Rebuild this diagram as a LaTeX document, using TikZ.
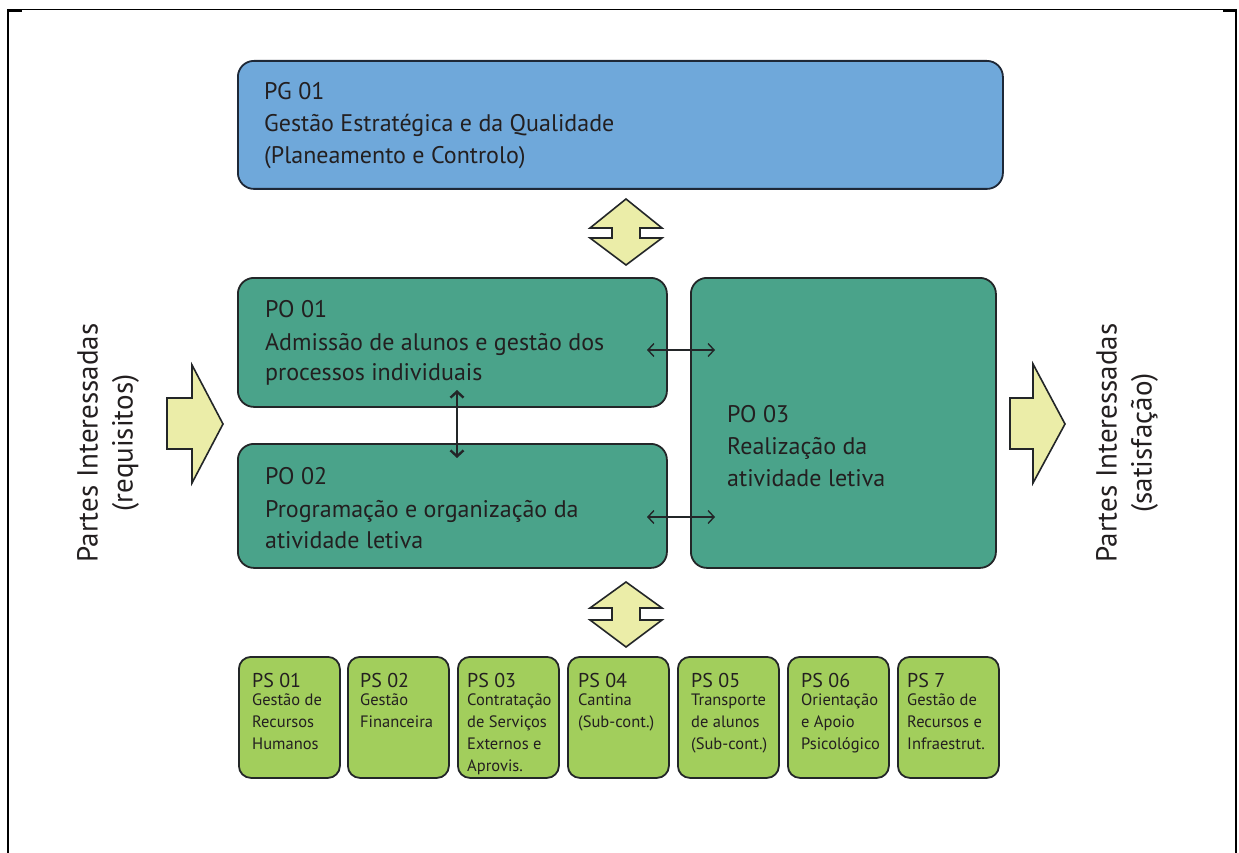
\documentclass[tikz,border=0pt]{standalone}
\usepackage{fontspec}
\setmainfont{PT Sans}
\usetikzlibrary{arrows.meta}
\definecolor{pgblue}{RGB}{111,168,218}
\definecolor{poteal}{RGB}{74,163,138}
\definecolor{psgreen}{RGB}{162,206,92}
\definecolor{yelarr}{RGB}{235,237,168}
\definecolor{boxline}{RGB}{35,38,40}
\definecolor{pgline}{RGB}{30,40,55}
\definecolor{txtcol}{RGB}{35,31,32}
\tikzset{
  bigbox/.style={draw=boxline, line width=1.8pt, rounded corners=16pt, inner sep=0pt, anchor=north west},
  psbox/.style={draw=boxline, line width=1.8pt, rounded corners=12pt, fill=psgreen, inner sep=0pt, anchor=north west, minimum width=101pt, minimum height=121pt},
  txt/.style={anchor=base west, inner sep=0pt, text=txtcol, font=\fontsize{24}{28}\selectfont},
  pstitle/.style={anchor=base west, inner sep=0pt, text=txtcol, font=\fontsize{20}{24}\selectfont},
  pssmall/.style={anchor=base west, inner sep=0pt, text=txtcol, font=\fontsize{16.5}{20}\selectfont},
  sidelbl/.style={rotate=90, align=center, inner sep=0pt, text=txtcol, font=\fontsize{29}{35}\selectfont},
  yarrow/.style={draw=boxline, line width=1.6pt, fill=yelarr, line join=miter},
  dblarrow/.style={{Straight Barb[length=6pt,width=13pt]}-{Straight Barb[length=6pt,width=13pt]}, draw=boxline},
}
\begin{document}
\begin{tikzpicture}[x=1pt,y=-1pt]
\useasboundingbox (0,0) rectangle (1239,853);
% frame
\draw[line width=1pt] (8,9.5) -- (1237,9.5);
\draw[line width=2pt] (8,9) -- (8,853);
\draw[line width=2pt] (1236,9) -- (1236,853);
\fill (8,9) rectangle (22,12.5);
\fill (1223,9) rectangle (1237,12.5);

% main boxes
\node[bigbox, fill=pgblue, draw=pgline, minimum width=765pt, minimum height=128pt] (pg) at (237,60) {};
\node[bigbox, fill=poteal, minimum width=429pt, minimum height=129pt] (po1) at (237,277) {};
\node[bigbox, fill=poteal, minimum width=429pt, minimum height=124pt] (po2) at (237,443) {};
\node[bigbox, fill=poteal, minimum width=305pt, minimum height=290pt] (po3) at (690,277) {};

% texts of main boxes
\node[txt] (pgt1) at (264,100) {PG 01};
\node[txt] (pgt2) at (264,132) {Gestão Estratégica e da Qualidade};
\node[txt] (pgt3) at (264,164) {(Planeamento e Controlo)};
\node[txt] (po1t1) at (265,317) {PO 01};
\node[txt] (po1t2) at (265,350) {Admissão de alunos e gestão dos};
\node[txt] (po1t3) at (265,380) {processos individuais};
\node[txt] (po2t1) at (265,484) {PO 02};
\node[txt] (po2t2) at (265,517) {Programação e organização da};
\node[txt] (po2t3) at (265,548) {atividade letiva};
\node[txt] (po3t1) at (727,422) {PO 03};
\node[txt] (po3t2) at (727,454) {Realização da};
\node[txt] (po3t3) at (727,486) {atividade letiva};

% small connectors
\coordinate (a1l) at (647,350);
\coordinate (a1r) at (715,350);
\coordinate (a2l) at (647,517);
\coordinate (a2r) at (715,517);
\coordinate (avt) at (457,390);
\coordinate (avb) at (457,458);
\draw[dblarrow, line width=1.4pt] (a1l) -- (a1r);
\draw[dblarrow, line width=1.4pt] (a2l) -- (a2r);
\draw[dblarrow, line width=2.4pt] (avt) -- (avb);

% yellow arrows
\draw[yarrow] (626,199) -- (662,228) -- (640,228) -- (640,238) -- (662,238) -- (626,265)
  -- (590,238) -- (612,238) -- (612,228) -- (590,228) -- cycle;
\draw[yarrow] (626,582) -- (662,608) -- (640,608) -- (640,620) -- (662,620) -- (626,647)
  -- (590,620) -- (612,620) -- (612,608) -- (590,608) -- cycle;
\draw[yarrow] (167,398) -- (192,398) -- (192,365) -- (223,424) -- (192,483) -- (192,449) -- (167,449) -- cycle;
\draw[yarrow] (1010,398) -- (1033,398) -- (1033,364) -- (1065,424) -- (1033,483) -- (1033,449) -- (1010,449) -- cycle;

% side labels
\node[sidelbl] (lreq) at (108,443) {Partes Interessadas\\(requisitos)};
\node[sidelbl] (rsat) at (1127,443) {Partes Interessadas\\(satisfação)};

% support boxes
\foreach \n/\x in {1/238,2/347,3/457,4/567,5/677,6/787,7/897}
  \node[psbox] (ps\n) at (\x,656) {};
\foreach \n/\x/\t in {1/252/PS 01,2/360/PS 02,3/467/PS 03,4/578/PS 04,5/691/PS 05,6/801/PS 06,7/907/PS 7}
  \node[pstitle] (pst\n) at (\x,687) {\t};
\foreach \n/\x/\y/\t in {
  1a/252/705/Gestão de, 1b/252/727/Recursos, 1c/252/749/Humanos,
  2a/360/705/Gestão, 2b/360/727/Financeira,
  3a/467/705/Contratação, 3b/467/727/de Serviços, 3c/467/749/Externos e, 3d/467/771/Aprovis.,
  4a/578/705/Cantina, 4b/578/727/(Sub-cont.),
  5a/691/705/Transporte, 5b/691/727/de alunos, 5c/691/749/(Sub-cont.),
  6a/801/705/Orientação, 6b/801/727/e Apoio, 6c/801/749/Psicológico,
  7a/907/705/Gestão de, 7b/907/727/Recursos e, 7c/907/749/Infraestrut.}
  \node[pssmall] (psl\n) at (\x,\y) {\t};
\end{tikzpicture}
\end{document}
